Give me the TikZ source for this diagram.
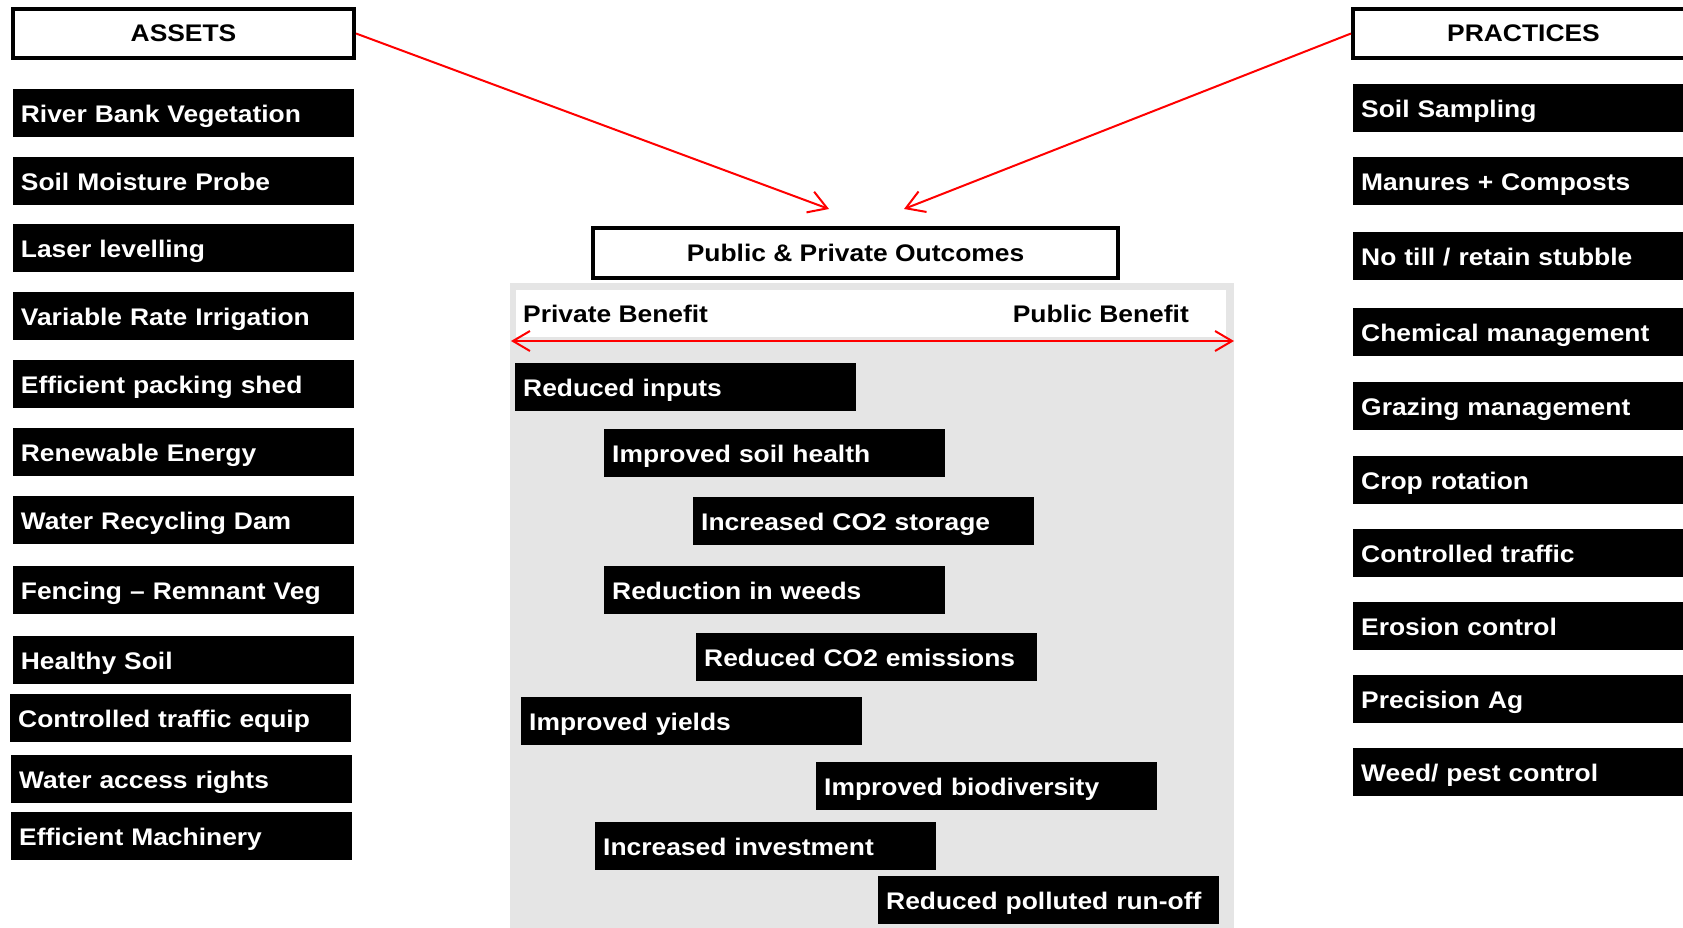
\documentclass[tikz,border=0pt]{standalone}
\usepackage{fontspec}
\newfontfamily\labelfont[FakeStretch=1.10]{Liberation Sans}
\usetikzlibrary{arrows.meta, positioning}

\begin{document}
\begin{tikzpicture}[
    x=1pt, y=-1pt,
    every node/.style={font=\labelfont\bfseries\fontsize{24}{28}\selectfont},
    header/.style={draw, line width=4pt, fill=white, minimum width=341pt, minimum height=49pt, inner sep=0pt},
    item/.style={fill=black, text=white, anchor=north west, minimum height=48pt, text width=325pt,
                 inner xsep=8pt, inner ysep=0pt, align=left, text height=19pt, text depth=0pt},
    link/.style={red, line width=2pt, -{Straight Barb[length=18pt, width=22pt]}}
]
    \useasboundingbox (0,0) rectangle (1683,928);
    \clip (0,0) rectangle (1683,928);

    % ASSETS column
    \begin{scope}
        \node[header] (assets) at (183.5,33.5) {ASSETS};
        \node[item] (a1) at (12.7,89) {River Bank Vegetation};
        \node[item] (a2) at (12.7,157) {Soil Moisture Probe};
        \node[item] (a3) at (12.7,224) {Laser levelling};
        \node[item] (a4) at (12.7,292) {Variable Rate Irrigation};
        \node[item] (a5) at (12.7,360) {Efficient packing shed};
        \node[item] (a6) at (12.7,428) {Renewable Energy};
        \node[item] (a7) at (12.7,496) {Water Recycling Dam};
        \node[item] (a8) at (12.7,566) {Fencing \textendash{} Remnant Veg};
        \node[item] (a9) at (12.7,636) {Healthy Soil};
        \node[item] (a10) at (10,694) {Controlled traffic equip};
        \node[item] (a11) at (11,755) {Water access rights};
        \node[item] (a12) at (11,812) {Efficient Machinery};
    \end{scope}

    % PRACTICES column
    \begin{scope}
        \node[header] (practices) at (1523.5,33.5) {PRACTICES};
        \node[item] (p1) at (1353,84) {Soil Sampling};
        \node[item] (p2) at (1353,157) {Manures + Composts};
        \node[item] (p3) at (1353,232) {No till / retain stubble};
        \node[item] (p4) at (1353,308) {Chemical management};
        \node[item] (p5) at (1353,382) {Grazing management};
        \node[item] (p6) at (1353,456) {Crop rotation};
        \node[item] (p7) at (1353,529) {Controlled traffic};
        \node[item] (p8) at (1353,602) {Erosion control};
        \node[item] (p9) at (1353,675) {Precision Ag};
        \node[item] (p10) at (1353,748) {Weed/ pest control};
    \end{scope}

    % outcomes panel
    \begin{scope}
        \node[header, minimum width=525pt, minimum height=50pt] (outcomes) at (855.5,253) {Public \& Private Outcomes};
        \fill[black!10] (510,283) rectangle (1234,928);
        \fill[white] (516,290) rectangle (1226,337);
        \node[anchor=base west, inner sep=0pt] (private) at (523,322) {Private Benefit};
        \node[anchor=base east, inner sep=0pt] (public) at (1189,322) {Public Benefit};
        \coordinate (privend) at (511,341);
        \coordinate (pubend) at (1234,341);
        \draw[red, line width=2pt, {Straight Barb[length=17pt, width=20pt]}-{Straight Barb[length=17pt, width=20pt]}] (privend) -- (pubend);

        \node[item] (o1) at (515,363) {Reduced inputs};
        \node[item] (o2) at (604,429) {Improved soil health};
        \node[item] (o3) at (693,497) {Increased CO2 storage};
        \node[item] (o4) at (604,566) {Reduction in weeds};
        \node[item] (o5) at (696,633) {Reduced CO2 emissions};
        \node[item] (o6) at (521,697) {Improved yields};
        \node[item] (o7) at (816,762) {Improved biodiversity};
        \node[item] (o8) at (595,822) {Increased investment};
        \node[item] (o9) at (878,876) {Reduced polluted run-off};
    \end{scope}

    % red arrows into the outcomes
    \coordinate (assetstip) at (829,209);
    \coordinate (practicestip) at (904,209);
    \draw[link] (assets.east) -- (assetstip);
    \draw[link] (practices.west) -- (practicestip);
\end{tikzpicture}
\end{document}
